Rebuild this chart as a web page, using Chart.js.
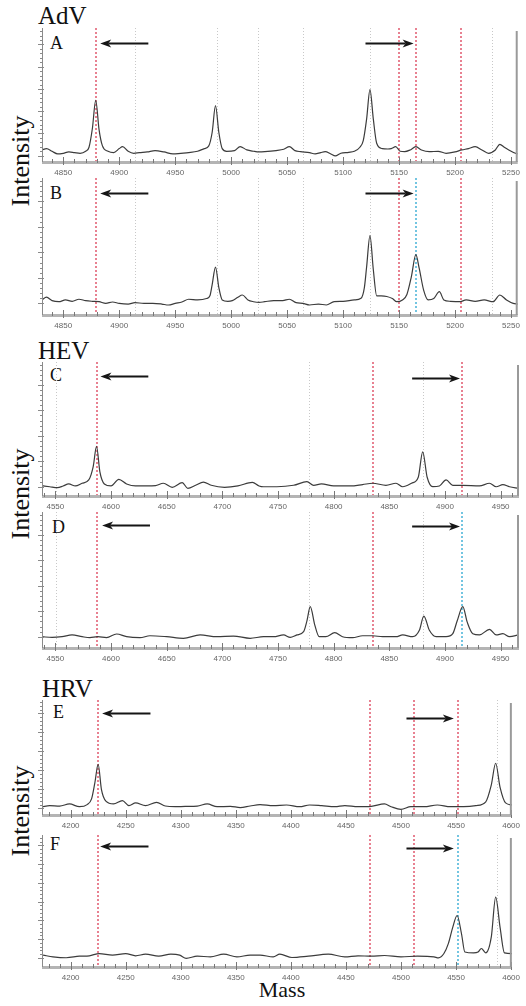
<!DOCTYPE html>
<html>
<head>
<meta charset="utf-8">
<script src="https://cdn.jsdelivr.net/npm/chart.js@4.4.1/dist/chart.umd.min.js"></script>
<style>
  body { margin: 0; background: #fff; }
  #page { position: relative; width: 526px; height: 1006px; overflow: hidden; background: #fff; }
  #page canvas { position: absolute; left: 0; }
  .txt { position: absolute; font-family: 'Liberation Serif', 'Times New Roman', serif; line-height: 1; color: #111; white-space: nowrap; }
  .grp { font-size: 25px; }
  .let { font-size: 18px; }
  .ylab { font-size: 26px; transform: translate(-50%, -50%) rotate(-90deg); }
  .xlab { font-size: 22px; transform: translateX(-50%); }
</style>
</head>
<body>
<div id="page">
  <div class="txt grp" style="left:38px;top:3px">AdV</div>
  <div class="txt grp" style="left:38px;top:338px">HEV</div>
  <div class="txt grp" style="left:42px;top:676px">HRV</div>
  <div class="txt let" style="left:50px;top:34px">A</div>
  <div class="txt let" style="left:50px;top:184px">B</div>
  <div class="txt let" style="left:50px;top:366px">C</div>
  <div class="txt let" style="left:52px;top:518px">D</div>
  <div class="txt let" style="left:53px;top:703px">E</div>
  <div class="txt let" style="left:50px;top:835px">F</div>
  <div class="txt ylab" style="left:21px;top:161px">Intensity</div>
  <div class="txt ylab" style="left:21px;top:494px">Intensity</div>
  <div class="txt ylab" style="left:21px;top:811px">Intensity</div>
  <div class="txt xlab" style="left:282px;top:979px">Mass</div>
</div>
<script>
// tick labels of the three mass ranges
const ticksAdV = [4850, 4900, 4950, 5000, 5050, 5100, 5150, 5200, 5250];
const ticksHEV = [4550, 4600, 4650, 4700, 4750, 4800, 4850, 4900, 4950];
const ticksHRV = [4200, 4250, 4300, 4350, 4400, 4450, 4500, 4550, 4600];

// spectra: [mass, intensity (% of panel height)]
const spectrumA = [[4831,9],[4835,10],[4840,8],[4845,6],[4850,6.5],[4855,7.5],[4860,7],[4865,6.5],[4870,8],[4873,11],
  [4876,25],[4879,46],[4882,24],[4885,12],[4890,8],[4895,7],[4900,10],[4903,11.5],[4908,8],[4913,6.5],
  [4918,7],[4925,7.5],[4932,8.5],[4940,7.5],[4948,6],[4955,6.5],[4962,7],[4970,8],[4976,10],[4980,12],
  [4983,22],[4986,42],[4989,22],[4992,10],[4996,8],[5003,8.5],[5008,11.5],[5014,9],[5020,8],[5025,7.5],
  [5030,7.7],[5040,8.5],[5047,9.5],[5052,11.4],[5057,8.5],[5062,7.7],[5070,7],[5075,6],[5080,7],[5084,7.7],
  [5089,6],[5093,4.5],[5098,6.5],[5105,7.2],[5110,8],[5115,11],[5118,16],[5121,32],[5124,54],[5127,32],
  [5130,14],[5135,10],[5140,9.7],[5143,10],[5147,11.4],[5151,8],[5155,7.7],[5160,9],[5165,11.4],[5170,9],
  [5177,7.7],[5185,8],[5192,6.5],[5200,7.5],[5206,9],[5212,10],[5218,11.4],[5224,9],[5230,6.5],[5236,9],
  [5240,13.2],[5244,11],[5248,9],[5254,6.5],[5256,6]];
const spectrumB = [[4831,11],[4835,13],[4840,10.5],[4846,9.7],[4852,11],[4858,10],[4864,11.5],[4870,10.5],[4876,10],[4882,9.7],
  [4888,8.5],[4894,9.5],[4900,8.5],[4908,8],[4914,9],[4922,8.5],[4930,8.5],[4938,8],[4944,7.3],[4950,8.5],
  [4956,9.5],[4962,11.5],[4970,11],[4978,12],[4981,14],[4983,22],[4986,35],[4989,20],[4992,11],[4997,10],
  [5001,10.5],[5006,13],[5010,14.6],[5015,11],[5020,9.7],[5025,9.2],[5030,9.7],[5038,10.5],[5046,10.5],[5052,11.5],
  [5058,9],[5064,8.5],[5070,7.3],[5078,8],[5085,7.3],[5092,9.7],[5100,10],[5110,11],[5116,12.2],[5119,20],
  [5121,35],[5124,58],[5127,33],[5130,14],[5134,13.9],[5139,13.5],[5144,12],[5148,9.7],[5153,11],[5157,15],
  [5161,28],[5165,44],[5168,34],[5172,18],[5176,11],[5181,12],[5186,17],[5190,11],[5196,10],[5204,9.7],
  [5210,11],[5218,10],[5226,11],[5234,9.7],[5240,14.6],[5246,11],[5252,8.5],[5256,8]];
const spectrumC = [[4538,7.7],[4545,6.9],[4552,6.2],[4557,7.5],[4562,9],[4568,7.5],[4574,9.5],[4580,12],[4584,22],[4587,37],
  [4590,18],[4594,9],[4600,7.5],[4607,12.4],[4614,9],[4622,7.5],[4632,7.5],[4640,7.8],[4647,9.5],[4655,6.5],
  [4664,10],[4669,5.7],[4676,8],[4683,10.4],[4690,8],[4702,6.5],[4714,7.5],[4727,10.2],[4733,7.5],[4737,6.9],
  [4749,6.9],[4764,8],[4776,10.7],[4782,8],[4789,9],[4800,7.5],[4815,7.5],[4826,8.5],[4835,9.5],[4847,8],
  [4856,9.5],[4862,6.9],[4870,9.5],[4876,14],[4880,33],[4884,14],[4889,7],[4895,7.5],[4901,12],[4907,8],
  [4916,8],[4931,7.5],[4940,9.5],[4946,6.9],[4952,8.5],[4958,6.9],[4966,5.7]];
const spectrumD = [[4538,8.3],[4547,7.8],[4556,8.3],[4565,9.6],[4574,8.3],[4581,7.6],[4588,8.3],[4596,7.6],[4605,10.3],[4614,8.3],
  [4626,7.6],[4635,9],[4650,8.3],[4665,7.1],[4680,9.6],[4695,8.3],[4710,8.8],[4725,7.1],[4737,8.3],[4746,8.3],
  [4755,9.6],[4761,7.8],[4767,9.6],[4773,12],[4776,20],[4779,30.4],[4783,17],[4787,8.3],[4793,8.3],[4801,11.3],
  [4808,8.3],[4817,7.6],[4826,9],[4835,9],[4844,8.3],[4856,8.3],[4862,9.6],[4871,8.3],[4877,13],[4881,23.5],
  [4886,13],[4892,8.3],[4901,8.3],[4907,10.5],[4911,20],[4916,30.4],[4920,19],[4925,10.5],[4931,9.6],[4940,13.7],
  [4946,9.6],[4952,10.5],[4958,8.3],[4966,9.6]];
const spectrumE = [[4174,7.2],[4181,8.1],[4190,7.8],[4199,9.6],[4208,7.2],[4215,9],[4219,14],[4222,28],[4225,44],[4228,22],
  [4232,12],[4239,9.6],[4247,12.5],[4253,8.1],[4259,10.5],[4268,8.1],[4278,11],[4286,7.8],[4295,7.2],[4304,7.5],
  [4315,7.8],[4324,9.6],[4333,7.2],[4345,7.5],[4354,6.5],[4363,7.8],[4372,9],[4384,8.1],[4396,8.7],[4408,7.2],
  [4417,8.7],[4428,8.1],[4440,7.2],[4449,8.1],[4461,7.2],[4473,7.5],[4485,9.6],[4491,7.2],[4500,4.9],[4509,7.2],
  [4521,7.2],[4533,8.7],[4545,7.2],[4557,7.2],[4568,8.1],[4577,11.5],[4582,26],[4586,45],[4590,24],[4595,10.5],
  [4601,8.7]];
const spectrumF = [[4175,9],[4184,7.7],[4196,7],[4208,8.2],[4217,8.5],[4226,10.2],[4238,9],[4250,10.2],[4259,8.5],[4268,9.7],
  [4280,8.2],[4291,9.7],[4299,9],[4305,6.5],[4315,8.2],[4327,7.7],[4339,9.7],[4351,7.7],[4363,9],[4372,9],
  [4384,7.7],[4390,9.7],[4401,7.2],[4416,8.2],[4434,9.7],[4449,7.7],[4461,8.5],[4473,8.2],[4485,8.7],[4500,7.7],
  [4515,8.2],[4530,7.7],[4534,6.9],[4539,10.2],[4543,17.7],[4547,30],[4551,39],[4555,25],[4558,11.4],[4566,10.7],
  [4570,11.4],[4573,14],[4577,10.7],[4582,22.6],[4586,53],[4590,30],[4594,10.7],[4601,10.2]];

// marker masses (dotted vertical lines)
const redA = [4879, 5150, 5165.5, 5205.5];
const redB = [4879, 5150, 5205.5];
const blueB = [5165.5];
const grayAdV = [4914, 4987, 5024, 5064, 5124, 5233];
const redC = [4587, 4835, 4915];
const redD = [4587, 4835];
const blueD = [4915];
const grayHEV = [4551, 4778, 4880];
const redE = [4225, 4472, 4512, 4551.5];
const redF = [4225, 4472, 4512];
const blueF = [4551.5];
const grayHRV = [4587];

const panels = [
  { id: 'A', top: 28, axis: 162, data: spectrumA, ticks: ticksAdV, range: [4831, 5256], red: redA, blue: [], gray: grayAdV,
    arrows: [[4926, 4883, 89], [5120, 5163, 89]], yZero: 4.7, yStep: 16.6 },
  { id: 'B', top: 178, axis: 315, data: spectrumB, ticks: ticksAdV, range: [4831, 5256], red: redB, blue: blueB, gray: grayAdV,
    arrows: [[4926, 4883, 89], [5120, 5163, 89]], yZero: 8.5, yStep: 18.6 },
  { id: 'C', top: 362, axis: 496, data: spectrumC, ticks: ticksHEV, range: [4538, 4966.5], red: redC, blue: [], gray: grayHEV,
    arrows: [[4633.5, 4590.5, 89.6], [4870.5, 4913.5, 88]], yZero: 6.9, yStep: 19 },
  { id: 'D', top: 512, axis: 648, data: spectrumD, ticks: ticksHEV, range: [4538, 4966.5], red: redD, blue: blueD, gray: grayHEV,
    arrows: [[4635, 4592, 90.4], [4870.5, 4913.5, 89.7]], yZero: 8.3, yStep: 18.7 },
  { id: 'E', top: 700, axis: 815, data: spectrumE, ticks: ticksHRV, range: [4174, 4600.7], red: redE, blue: [], gray: grayHRV,
    arrows: [[4272.5, 4228.6, 88.7], [4505, 4548, 84.3]], yZero: 5.8, yStep: 16.5 },
  { id: 'F', top: 835, axis: 967, data: spectrumF, ticks: ticksHRV, range: [4174, 4600.7], red: redF, blue: blueF, gray: grayHRV,
    arrows: [[4270.7, 4226.8, 91.8], [4505, 4548, 90.3]], yZero: 6.9, yStep: 14.2 },
];

const decor = {
  id: 'decor',
  beforeDatasetsDraw(chart, args, o) {
    const { ctx, chartArea: a, scales: { x } } = chart;
    ctx.save();
    const lines = (list, color, dash, width) => {
      ctx.strokeStyle = color;
      ctx.lineWidth = width;
      ctx.setLineDash(dash);
      list.forEach(m => {
        const px = width > 1 ? Math.round(x.getPixelForValue(m)) : Math.round(x.getPixelForValue(m)) + 0.5;
        ctx.beginPath(); ctx.moveTo(px, a.top); ctx.lineTo(px, a.bottom); ctx.stroke();
      });
    };
    lines(o.gray, '#c8c8c8', [1, 2], 1);
    lines(o.red, 'rgba(220, 60, 85, 0.8)', [2, 2], 1.6);
    lines(o.blue, 'rgba(50, 170, 210, 0.85)', [2, 2], 1.6);
    ctx.restore();
  },
  afterDraw(chart, args, o) {
    const { ctx, chartArea: a, scales: { x, y } } = chart;
    ctx.save();
    // x axis bar
    ctx.fillStyle = '#b4b4b4';
    ctx.fillRect(a.left, a.bottom - 1, a.right - a.left, 3);
    ctx.strokeStyle = '#777';
    ctx.lineWidth = 1;
    for (let m = Math.ceil(x.min / 10) * 10; m <= x.max; m += 10) {
      const px = Math.round(x.getPixelForValue(m)) + 0.5;
      const major = m % 50 === 0;
      ctx.beginPath();
      ctx.moveTo(px, a.bottom - (major ? 5 : 3));
      ctx.lineTo(px, a.bottom + (major ? 3 : 1));
      ctx.stroke();
    }
    // y axis
    ctx.strokeStyle = '#8a8a8a';
    ctx.beginPath();
    ctx.moveTo(a.left + 0.5, a.top); ctx.lineTo(a.left + 0.5, a.bottom); ctx.stroke();
    for (let k = 0; o.yZero + k * o.yStep / 5 <= y.max; k++) {
      const py = Math.round(y.getPixelForValue(o.yZero + k * o.yStep / 5)) + 0.5;
      const major = k % 5 === 0;
      ctx.beginPath();
      ctx.moveTo(a.left - (major ? 4 : 2), py);
      ctx.lineTo(a.left + (major ? 2 : 1), py);
      ctx.stroke();
    }
    // right frame
    ctx.strokeStyle = '#9a9a9a';
    ctx.lineWidth = 2;
    ctx.beginPath();
    ctx.moveTo(a.right - 1, a.top + 3); ctx.lineTo(a.right - 1, a.bottom); ctx.stroke();
    // arrows
    ctx.strokeStyle = '#151515';
    ctx.fillStyle = '#151515';
    ctx.lineWidth = 1.8;
    o.arrows.forEach(([from, to, lvl]) => {
      const x0 = x.getPixelForValue(from), x1 = x.getPixelForValue(to);
      const py = Math.round(y.getPixelForValue(lvl)) + 0.5;
      const dir = Math.sign(x1 - x0);
      ctx.beginPath(); ctx.moveTo(x0, py); ctx.lineTo(x1 - dir * 8, py); ctx.stroke();
      ctx.beginPath();
      ctx.moveTo(x1, py);
      ctx.lineTo(x1 - dir * 11, py - 4);
      ctx.lineTo(x1 - dir * 8, py);
      ctx.lineTo(x1 - dir * 11, py + 4);
      ctx.closePath(); ctx.fill();
    });
    ctx.restore();
  }
};

const page = document.getElementById('page');
panels.forEach(p => {
  const cv = document.createElement('canvas');
  const h = p.axis - p.top + 20;
  cv.width = 526;
  cv.height = h;
  cv.style.top = (p.top - 4) + 'px';
  page.appendChild(cv);
  new Chart(cv, {
    type: 'line',
    data: {
      datasets: [{
        data: p.data.map(([m, v]) => ({ x: m, y: v })),
        borderColor: '#3c3c3c',
        borderWidth: 1.2,
        pointRadius: 0,
        cubicInterpolationMode: 'monotone',
        fill: false,
      }],
    },
    options: {
      responsive: false,
      animation: false,
      events: [],
      layout: { autoPadding: false, padding: { left: 42, right: 7, top: 4, bottom: 0 } },
      plugins: {
        legend: { display: false },
        tooltip: { enabled: false },
        decor: { red: p.red, blue: p.blue, gray: p.gray, arrows: p.arrows, yZero: p.yZero, yStep: p.yStep },
      },
      scales: {
        x: {
          type: 'linear',
          min: p.range[0],
          max: p.range[1],
          afterBuildTicks: s => { s.ticks = p.ticks.map(v => ({ value: v })); },
          afterFit: s => { s.height = 16; },
          grid: { display: false, drawTicks: false },
          border: { display: false },
          ticks: {
            color: '#666',
            font: { family: "'Liberation Sans Narrow', 'Liberation Sans', sans-serif", size: 8 },
            padding: 6,
            maxRotation: 0,
            autoSkip: false,
            callback: v => String(v),
          },
        },
        y: { display: false, min: 0, max: 100 },
      },
    },
    plugins: [decor],
  });
});
</script>
</body>
</html>
